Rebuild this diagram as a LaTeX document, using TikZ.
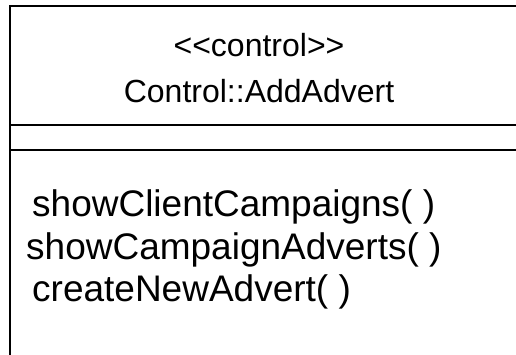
\documentclass[tikz,border=0pt]{standalone}
\usepackage{fontspec}
\setmainfont{Liberation Sans}
\begin{document}
\begin{tikzpicture}[x=1pt,y=-1pt,
  frame/.style={line width=2.8pt,black},
  header/.style={anchor=base,inner sep=0pt,font=\fontsize{32}{38}\selectfont},
  method/.style={anchor=base west,inner sep=0pt,font=\fontsize{37}{42}\selectfont}]
  \useasboundingbox[fill=white] (0,0) rectangle (516,355);
  % class outline: top edge and left edge run past the page
  \draw[frame] (520,6) -- (10,6) -- (10,360);
  % compartment separators
  \draw[frame] (10,125) -- (520,125);
  \draw[frame] (10,150) -- (520,150);
  % name compartment
  \node[header] (stereo) at (259,57) {<\kern0pt<control>\kern0pt>};
  \node[header] (cname) at (259,103) {Control::AddAdvert};
  % operations compartment
  \node[method] (op1) at (32,217) {showClientCampaigns( )};
  \node[method] (op2) at (26,259) {showCampaignAdverts( )};
  \node[method] (op3) at (32,301) {createNewAdvert( )};
\end{tikzpicture}
\end{document}
